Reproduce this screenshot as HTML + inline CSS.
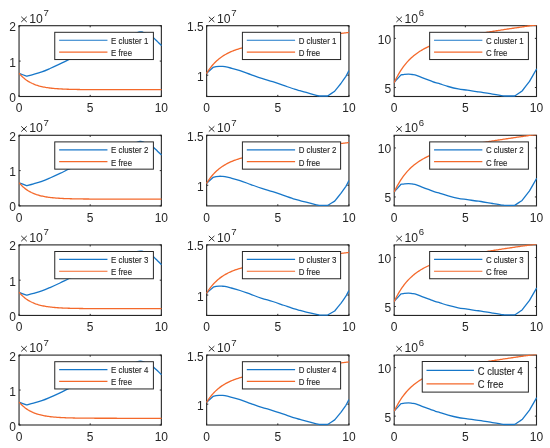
<!DOCTYPE html>
<html><head><meta charset="utf-8"><style>
html,body{margin:0;padding:0;background:#fff;width:550px;height:448px;overflow:hidden}
svg{display:block;will-change:transform}
text{font-family:"Liberation Sans",sans-serif;fill:#262626}
</style></head><body>
<svg width="550" height="448" viewBox="0 0 550 448">
<defs><filter id="bl" filterUnits="userSpaceOnUse" x="0" y="0" width="550" height="448"><feGaussianBlur stdDeviation="0.45"/></filter></defs>
<rect width="550" height="448" fill="#fff"/>
<g filter="url(#bl)">
<clipPath id="c00"><rect x="18.45" y="25.10" width="143.50" height="72.00"/></clipPath>
<rect x="19.05" y="25.70" width="142.30" height="70.80" fill="none" stroke="#262626" stroke-width="1.1"/>
<path d="M19.05,96.50 V94.90 M19.05,25.70 V27.30" stroke="#262626" stroke-width="1"/>
<text x="19.05" y="112.10" text-anchor="middle" font-size="12.0">0</text>
<path d="M90.20,96.50 V94.90 M90.20,25.70 V27.30" stroke="#262626" stroke-width="1"/>
<text x="90.20" y="112.10" text-anchor="middle" font-size="12.0">5</text>
<path d="M161.35,96.50 V94.90 M161.35,25.70 V27.30" stroke="#262626" stroke-width="1"/>
<text x="161.35" y="112.10" text-anchor="middle" font-size="12.0">10</text>
<path d="M19.05,25.70 H20.65 M161.35,25.70 H159.75" stroke="#262626" stroke-width="1"/>
<text x="16.05" y="31.20" text-anchor="end" font-size="12.0">2</text>
<path d="M19.05,61.10 H20.65 M161.35,61.10 H159.75" stroke="#262626" stroke-width="1"/>
<text x="16.05" y="66.60" text-anchor="end" font-size="12.0">1</text>
<path d="M19.05,96.50 H20.65 M161.35,96.50 H159.75" stroke="#262626" stroke-width="1"/>
<text x="16.05" y="102.00" text-anchor="end" font-size="12.0">0</text>
<path d="M21.25,16.75 L26.75,21.95 M26.75,16.75 L21.25,21.95" stroke="#262626" stroke-width="0.95" fill="none"/>
<text x="29.35" y="22.70" font-size="12.2">10</text>
<text x="43.55" y="16.25" font-size="9.6">7</text>
<g clip-path="url(#c00)" fill="none" stroke-width="1.3" stroke-linejoin="round">
<path d="M19.10,73.30 C20.33,73.78 25.27,75.72 26.50,76.20 C27.68,75.90 31.05,75.12 33.60,74.40 C36.15,73.68 39.07,72.88 41.80,71.90 C44.53,70.92 46.97,69.83 50.00,68.50 C53.03,67.17 56.82,65.41 60.00,63.90 C63.18,62.39 65.77,61.05 69.10,59.45 C72.43,57.85 76.52,55.88 80.00,54.30 C83.48,52.72 86.67,51.40 90.00,50.00 C93.33,48.60 96.67,47.23 100.00,45.90 C103.33,44.57 106.67,43.25 110.00,42.00 C113.33,40.75 116.67,39.60 120.00,38.40 C123.33,37.20 127.50,35.62 130.00,34.80 C132.50,33.98 133.67,33.92 135.00,33.50 C136.33,33.08 137.17,32.57 138.00,32.30 C138.83,32.03 139.33,31.95 140.00,31.90 C140.67,31.85 141.33,31.87 142.00,32.00 C142.67,32.13 143.00,32.30 144.00,32.70 C145.00,33.10 146.83,33.87 148.00,34.40 C149.17,34.93 150.05,35.32 151.00,35.90 C151.95,36.48 152.62,36.95 153.70,37.90 C154.78,38.85 156.18,40.32 157.50,41.60 C158.82,42.88 160.92,44.93 161.60,45.60" stroke="#1877C9"/>
<path d="M19.05,73.12 L20.07,74.33 L21.10,75.45 L22.12,76.49 L23.15,77.46 L24.17,78.35 L25.20,79.18 L26.22,79.95 L27.25,80.67 L28.27,81.33 L29.30,81.94 L30.32,82.51 L31.35,83.03 L32.37,83.52 L33.40,83.97 L34.42,84.39 L35.45,84.78 L36.47,85.14 L37.50,85.47 L38.52,85.78 L39.55,86.07 L40.57,86.33 L41.60,86.58 L42.62,86.81 L43.65,87.02 L44.67,87.21 L45.70,87.40 L46.72,87.56 L47.74,87.72 L48.77,87.87 L49.79,88.00 L50.82,88.12 L51.84,88.24 L52.87,88.35 L53.89,88.44 L54.92,88.54 L55.94,88.62 L56.97,88.70 L57.99,88.77 L59.02,88.84 L60.04,88.90 L61.07,88.96 L62.09,89.02 L63.12,89.07 L64.14,89.11 L65.17,89.16 L66.19,89.20 L67.22,89.23 L68.24,89.27 L69.27,89.30 L70.29,89.33 L71.32,89.35 L72.34,89.38 L73.37,89.40 L74.39,89.42 L75.42,89.45 L76.44,89.46 L77.46,89.48 L78.49,89.50 L79.51,89.51 L80.54,89.53 L81.56,89.54 L82.59,89.55 L83.61,89.56 L84.64,89.57 L85.66,89.58 L86.69,89.59 L87.71,89.60 L88.74,89.60 L89.76,89.61 L90.79,89.62 L91.81,89.62 L92.84,89.63 L93.86,89.63 L94.89,89.64 L95.91,89.64 L96.94,89.65 L97.96,89.65 L98.99,89.66 L100.01,89.66 L101.04,89.66 L102.06,89.66 L103.09,89.67 L104.11,89.67 L105.13,89.67 L106.16,89.67 L107.18,89.68 L108.21,89.68 L109.23,89.68 L110.26,89.68 L111.28,89.68 L112.31,89.68 L113.33,89.68 L114.36,89.69 L115.38,89.69 L116.41,89.69 L117.43,89.69 L118.46,89.69 L119.48,89.69 L120.51,89.69 L121.53,89.69 L122.56,89.69 L123.58,89.69 L124.61,89.69 L125.63,89.69 L126.66,89.69 L127.68,89.69 L128.71,89.70 L129.73,89.70 L130.76,89.70 L131.78,89.70 L132.81,89.70 L133.83,89.70 L134.85,89.70 L135.88,89.70 L136.90,89.70 L137.93,89.70 L138.95,89.70 L139.98,89.70 L141.00,89.70 L142.03,89.70 L143.05,89.70 L144.08,89.70 L145.10,89.70 L146.13,89.70 L147.15,89.70 L148.18,89.70 L149.20,89.70 L150.23,89.70 L151.25,89.70 L152.28,89.70 L153.30,89.70 L154.33,89.70 L155.35,89.70 L156.38,89.70 L157.40,89.70 L158.43,89.70 L159.45,89.70 L160.48,89.70 L161.50,89.70" stroke="#F4692C"/>
</g>
<rect x="54.75" y="32.30" width="98.65" height="27.25" fill="#fff" stroke="#262626" stroke-width="1"/>
<path d="M59.15,40.25 H107.45" stroke="#1877C9" stroke-width="1.2"/>
<path d="M59.15,52.05 H107.45" stroke="#F4692C" stroke-width="1.2"/>
<text transform="translate(111.05,43.60) scale(1,1.18)" font-size="7.9" stroke="#262626" stroke-width="0.12">E cluster 1</text>
<text transform="translate(111.05,56.00) scale(1,1.18)" font-size="7.9" stroke="#262626" stroke-width="0.12">E free</text>
<clipPath id="c01"><rect x="206.05" y="25.10" width="143.50" height="72.00"/></clipPath>
<rect x="206.65" y="25.70" width="142.30" height="70.80" fill="none" stroke="#262626" stroke-width="1.1"/>
<path d="M206.65,96.50 V94.90 M206.65,25.70 V27.30" stroke="#262626" stroke-width="1"/>
<text x="206.65" y="112.10" text-anchor="middle" font-size="12.0">0</text>
<path d="M277.80,96.50 V94.90 M277.80,25.70 V27.30" stroke="#262626" stroke-width="1"/>
<text x="277.80" y="112.10" text-anchor="middle" font-size="12.0">5</text>
<path d="M348.95,96.50 V94.90 M348.95,25.70 V27.30" stroke="#262626" stroke-width="1"/>
<text x="348.95" y="112.10" text-anchor="middle" font-size="12.0">10</text>
<path d="M206.65,25.70 H208.25 M348.95,25.70 H347.35" stroke="#262626" stroke-width="1"/>
<text x="203.65" y="31.20" text-anchor="end" font-size="12.0">1.5</text>
<path d="M206.65,75.19 H208.25 M348.95,75.19 H347.35" stroke="#262626" stroke-width="1"/>
<text x="203.65" y="80.69" text-anchor="end" font-size="12.0">1</text>
<path d="M208.85,16.75 L214.35,21.95 M214.35,16.75 L208.85,21.95" stroke="#262626" stroke-width="0.95" fill="none"/>
<text x="216.95" y="22.70" font-size="12.2">10</text>
<text x="231.15" y="16.25" font-size="9.6">7</text>
<g clip-path="url(#c01)" fill="none" stroke-width="1.3" stroke-linejoin="round">
<path d="M206.65,73.30 C207.76,72.30 212.19,68.30 213.30,67.30 C213.75,67.18 215.03,66.77 216.00,66.60 C216.97,66.43 218.10,66.34 219.10,66.30 C220.10,66.26 221.03,66.30 222.00,66.35 C222.97,66.40 223.45,66.32 224.90,66.60 C226.35,66.88 228.18,67.32 230.70,68.00 C233.22,68.68 236.63,69.56 240.00,70.66 C243.37,71.76 247.27,73.30 250.90,74.60 C254.53,75.90 258.17,77.27 261.80,78.45 C265.43,79.63 269.07,80.53 272.70,81.70 C276.33,82.87 279.97,84.20 283.60,85.45 C287.23,86.70 291.77,88.33 294.50,89.20 C297.23,90.08 298.05,90.17 300.00,90.70 C301.95,91.23 303.47,91.63 306.20,92.40 C308.93,93.17 314.20,94.70 316.40,95.30 C318.60,95.90 318.90,95.88 319.40,96.00 C320.77,96.00 326.23,96.00 327.60,96.00 C328.78,95.20 333.52,92.00 334.70,91.20 C335.73,89.92 339.87,84.78 340.90,83.50 C341.73,82.32 345.07,77.58 345.90,76.40 C346.40,75.43 348.40,71.57 348.90,70.60" stroke="#1877C9"/>
<path d="M206.50,73.54 L207.52,71.90 L208.55,70.35 L209.57,68.90 L210.60,67.53 L211.62,66.24 L212.65,65.03 L213.67,63.88 L214.70,62.80 L215.72,61.78 L216.74,60.82 L217.77,59.91 L218.79,59.06 L219.82,58.24 L220.84,57.48 L221.87,56.75 L222.89,56.07 L223.92,55.41 L224.94,54.80 L225.96,54.21 L226.99,53.66 L228.01,53.13 L229.04,52.62 L230.06,52.15 L231.09,51.69 L232.11,51.26 L233.14,50.84 L234.16,50.44 L235.18,50.07 L236.21,49.70 L237.23,49.36 L238.26,49.02 L239.28,48.70 L240.31,48.40 L241.33,48.10 L242.36,47.82 L243.38,47.54 L244.41,47.28 L245.43,47.02 L246.45,46.77 L247.48,46.53 L248.50,46.30 L249.53,46.07 L250.55,45.86 L251.58,45.64 L252.60,45.43 L253.63,45.23 L254.65,45.03 L255.67,44.84 L256.70,44.65 L257.72,44.47 L258.75,44.29 L259.77,44.11 L260.80,43.94 L261.82,43.77 L262.85,43.60 L263.87,43.43 L264.89,43.27 L265.92,43.11 L266.94,42.95 L267.97,42.80 L268.99,42.64 L270.02,42.49 L271.04,42.34 L272.07,42.19 L273.09,42.05 L274.11,41.90 L275.14,41.76 L276.16,41.61 L277.19,41.47 L278.21,41.33 L279.24,41.19 L280.26,41.05 L281.29,40.91 L282.31,40.77 L283.33,40.64 L284.36,40.50 L285.38,40.37 L286.41,40.23 L287.43,40.10 L288.46,39.96 L289.48,39.83 L290.51,39.70 L291.53,39.57 L292.55,39.43 L293.58,39.30 L294.60,39.17 L295.63,39.04 L296.65,38.91 L297.68,38.78 L298.70,38.65 L299.73,38.52 L300.75,38.39 L301.77,38.27 L302.80,38.14 L303.82,38.01 L304.85,37.88 L305.87,37.75 L306.90,37.62 L307.92,37.50 L308.95,37.37 L309.97,37.24 L310.99,37.11 L312.02,36.99 L313.04,36.86 L314.07,36.73 L315.09,36.61 L316.12,36.48 L317.14,36.35 L318.17,36.23 L319.19,36.10 L320.22,35.97 L321.24,35.85 L322.26,35.72 L323.29,35.59 L324.31,35.47 L325.34,35.34 L326.36,35.22 L327.39,35.09 L328.41,34.96 L329.44,34.84 L330.46,34.71 L331.48,34.59 L332.51,34.46 L333.53,34.33 L334.56,34.21 L335.58,34.08 L336.61,33.96 L337.63,33.83 L338.66,33.70 L339.68,33.58 L340.70,33.45 L341.73,33.33 L342.75,33.20 L343.78,33.08 L344.80,32.95 L345.83,32.82 L346.85,32.70 L347.88,32.57 L348.90,32.45" stroke="#F4692C"/>
</g>
<rect x="242.40" y="32.30" width="98.20" height="27.25" fill="#fff" stroke="#262626" stroke-width="1"/>
<path d="M246.80,40.25 H295.10" stroke="#1877C9" stroke-width="1.2"/>
<path d="M246.80,52.05 H295.10" stroke="#F4692C" stroke-width="1.2"/>
<text transform="translate(298.70,43.60) scale(1,1.18)" font-size="7.9" stroke="#262626" stroke-width="0.12">D cluster 1</text>
<text transform="translate(298.70,56.00) scale(1,1.18)" font-size="7.9" stroke="#262626" stroke-width="0.12">D free</text>
<clipPath id="c02"><rect x="393.60" y="25.10" width="143.50" height="72.00"/></clipPath>
<rect x="394.20" y="25.70" width="142.30" height="70.80" fill="none" stroke="#262626" stroke-width="1.1"/>
<path d="M394.20,96.50 V94.90 M394.20,25.70 V27.30" stroke="#262626" stroke-width="1"/>
<text x="394.20" y="112.10" text-anchor="middle" font-size="12.0">0</text>
<path d="M465.35,96.50 V94.90 M465.35,25.70 V27.30" stroke="#262626" stroke-width="1"/>
<text x="465.35" y="112.10" text-anchor="middle" font-size="12.0">5</text>
<path d="M536.50,96.50 V94.90 M536.50,25.70 V27.30" stroke="#262626" stroke-width="1"/>
<text x="536.50" y="112.10" text-anchor="middle" font-size="12.0">10</text>
<path d="M394.20,38.37 H395.80 M536.50,38.37 H534.90" stroke="#262626" stroke-width="1"/>
<text x="391.20" y="43.87" text-anchor="end" font-size="12.0">10</text>
<path d="M394.20,87.53 H395.80 M536.50,87.53 H534.90" stroke="#262626" stroke-width="1"/>
<text x="391.20" y="93.03" text-anchor="end" font-size="12.0">5</text>
<path d="M396.40,16.75 L401.90,21.95 M401.90,16.75 L396.40,21.95" stroke="#262626" stroke-width="0.95" fill="none"/>
<text x="404.50" y="22.70" font-size="12.2">10</text>
<text x="418.70" y="16.25" font-size="9.6">6</text>
<g clip-path="url(#c02)" fill="none" stroke-width="1.3" stroke-linejoin="round">
<path d="M394.20,82.40 C395.33,81.14 399.87,76.11 401.00,74.85 C401.58,74.77 403.23,74.47 404.50,74.35 C405.77,74.22 407.35,74.07 408.60,74.10 C409.85,74.12 410.70,74.30 412.00,74.50 C413.30,74.70 414.62,74.73 416.40,75.30 C418.18,75.87 420.30,76.97 422.70,77.90 C425.10,78.83 428.67,80.12 430.80,80.90 C432.93,81.68 433.97,82.10 435.50,82.60 C437.03,83.10 437.88,83.25 440.00,83.90 C442.12,84.55 445.17,85.67 448.20,86.50 C451.23,87.33 455.02,88.28 458.20,88.90 C461.38,89.52 464.27,89.75 467.30,90.20 C470.33,90.65 474.12,91.28 476.40,91.60 C478.68,91.92 478.32,91.68 481.00,92.10 C483.68,92.52 488.82,93.48 492.50,94.10 C496.18,94.72 500.80,95.48 503.10,95.80 C505.40,96.12 505.77,95.97 506.30,96.00 C507.70,96.00 513.30,96.00 514.70,96.00 C515.93,95.17 520.87,91.83 522.10,91.00 C523.33,89.40 528.27,83.00 529.50,81.40 C530.70,79.30 535.50,70.90 536.70,68.80" stroke="#1877C9"/>
<path d="M394.20,82.60 L395.22,80.44 L396.25,78.39 L397.27,76.45 L398.30,74.60 L399.32,72.86 L400.35,71.20 L401.37,69.62 L402.40,68.13 L403.42,66.71 L404.44,65.36 L405.47,64.07 L406.49,62.85 L407.52,61.69 L408.54,60.58 L409.57,59.53 L410.59,58.53 L411.62,57.57 L412.64,56.66 L413.66,55.79 L414.69,54.96 L415.71,54.17 L416.74,53.41 L417.76,52.68 L418.79,51.99 L419.81,51.32 L420.84,50.69 L421.86,50.08 L422.88,49.49 L423.91,48.93 L424.93,48.39 L425.96,47.87 L426.98,47.37 L428.01,46.89 L429.03,46.42 L430.06,45.97 L431.08,45.54 L432.11,45.13 L433.13,44.72 L434.15,44.33 L435.18,43.95 L436.20,43.59 L437.23,43.23 L438.25,42.89 L439.28,42.56 L440.30,42.23 L441.33,41.91 L442.35,41.61 L443.37,41.31 L444.40,41.01 L445.42,40.73 L446.45,40.45 L447.47,40.18 L448.50,39.91 L449.52,39.65 L450.55,39.40 L451.57,39.15 L452.59,38.90 L453.62,38.66 L454.64,38.42 L455.67,38.19 L456.69,37.96 L457.72,37.74 L458.74,37.52 L459.77,37.30 L460.79,37.09 L461.81,36.87 L462.84,36.66 L463.86,36.46 L464.89,36.26 L465.91,36.05 L466.94,35.86 L467.96,35.66 L468.99,35.46 L470.01,35.27 L471.03,35.08 L472.06,34.89 L473.08,34.71 L474.11,34.52 L475.13,34.34 L476.16,34.15 L477.18,33.97 L478.21,33.79 L479.23,33.62 L480.25,33.44 L481.28,33.26 L482.30,33.09 L483.33,32.92 L484.35,32.74 L485.38,32.57 L486.40,32.40 L487.43,32.23 L488.45,32.06 L489.47,31.90 L490.50,31.73 L491.52,31.57 L492.55,31.40 L493.57,31.24 L494.60,31.07 L495.62,30.91 L496.65,30.75 L497.67,30.59 L498.69,30.43 L499.72,30.27 L500.74,30.11 L501.77,29.95 L502.79,29.79 L503.82,29.63 L504.84,29.48 L505.87,29.32 L506.89,29.17 L507.92,29.01 L508.94,28.86 L509.96,28.70 L510.99,28.55 L512.01,28.40 L513.04,28.24 L514.06,28.09 L515.09,27.94 L516.11,27.79 L517.14,27.64 L518.16,27.49 L519.18,27.34 L520.21,27.19 L521.23,27.04 L522.26,26.89 L523.28,26.74 L524.31,26.59 L525.33,26.45 L526.36,26.30 L527.38,26.15 L528.40,26.01 L529.43,25.86 L530.45,25.72 L531.48,25.57 L532.50,25.43 L533.53,25.28 L534.55,25.14 L535.58,25.00 L536.60,24.85" stroke="#F4692C"/>
</g>
<rect x="429.65" y="32.30" width="98.75" height="27.25" fill="#fff" stroke="#262626" stroke-width="1"/>
<path d="M434.05,40.25 H482.35" stroke="#1877C9" stroke-width="1.2"/>
<path d="M434.05,52.05 H482.35" stroke="#F4692C" stroke-width="1.2"/>
<text transform="translate(485.95,43.60) scale(1,1.18)" font-size="7.9" stroke="#262626" stroke-width="0.12">C cluster 1</text>
<text transform="translate(485.95,56.00) scale(1,1.18)" font-size="7.9" stroke="#262626" stroke-width="0.12">C free</text>
<clipPath id="c10"><rect x="18.45" y="134.70" width="143.50" height="71.80"/></clipPath>
<rect x="19.05" y="135.30" width="142.30" height="70.60" fill="none" stroke="#262626" stroke-width="1.1"/>
<path d="M19.05,205.90 V204.30 M19.05,135.30 V136.90" stroke="#262626" stroke-width="1"/>
<text x="19.05" y="221.50" text-anchor="middle" font-size="12.0">0</text>
<path d="M90.20,205.90 V204.30 M90.20,135.30 V136.90" stroke="#262626" stroke-width="1"/>
<text x="90.20" y="221.50" text-anchor="middle" font-size="12.0">5</text>
<path d="M161.35,205.90 V204.30 M161.35,135.30 V136.90" stroke="#262626" stroke-width="1"/>
<text x="161.35" y="221.50" text-anchor="middle" font-size="12.0">10</text>
<path d="M19.05,135.30 H20.65 M161.35,135.30 H159.75" stroke="#262626" stroke-width="1"/>
<text x="16.05" y="140.80" text-anchor="end" font-size="12.0">2</text>
<path d="M19.05,170.60 H20.65 M161.35,170.60 H159.75" stroke="#262626" stroke-width="1"/>
<text x="16.05" y="176.10" text-anchor="end" font-size="12.0">1</text>
<path d="M19.05,205.90 H20.65 M161.35,205.90 H159.75" stroke="#262626" stroke-width="1"/>
<text x="16.05" y="211.40" text-anchor="end" font-size="12.0">0</text>
<path d="M21.25,126.35 L26.75,131.55 M26.75,126.35 L21.25,131.55" stroke="#262626" stroke-width="0.95" fill="none"/>
<text x="29.35" y="132.30" font-size="12.2">10</text>
<text x="43.55" y="125.85" font-size="9.6">7</text>
<g clip-path="url(#c10)" fill="none" stroke-width="1.3" stroke-linejoin="round">
<path d="M19.10,182.77 C20.33,183.25 25.27,185.18 26.50,185.66 C27.68,185.36 31.05,184.58 33.60,183.86 C36.15,183.15 39.07,182.35 41.80,181.37 C44.53,180.39 46.97,179.31 50.00,177.98 C53.03,176.65 56.82,174.90 60.00,173.39 C63.18,171.89 65.77,170.55 69.10,168.95 C72.43,167.36 76.52,165.39 80.00,163.82 C83.48,162.25 86.67,160.93 90.00,159.53 C93.33,158.14 96.67,156.77 100.00,155.44 C103.33,154.11 106.67,152.80 110.00,151.55 C113.33,150.31 116.67,149.16 120.00,147.96 C123.33,146.77 127.50,145.19 130.00,144.37 C132.50,143.56 133.67,143.49 135.00,143.08 C136.33,142.66 137.17,142.15 138.00,141.88 C138.83,141.62 139.33,141.53 140.00,141.48 C140.67,141.43 141.33,141.45 142.00,141.58 C142.67,141.72 143.00,141.88 144.00,142.28 C145.00,142.68 146.83,143.44 148.00,143.98 C149.17,144.51 150.05,144.89 151.00,145.47 C151.95,146.05 152.62,146.52 153.70,147.47 C154.78,148.41 156.18,149.88 157.50,151.16 C158.82,152.43 160.92,154.48 161.60,155.14" stroke="#1877C9"/>
<path d="M19.05,182.58 L20.07,183.79 L21.10,184.91 L22.12,185.95 L23.15,186.91 L24.17,187.81 L25.20,188.63 L26.22,189.40 L27.25,190.11 L28.27,190.77 L29.30,191.38 L30.32,191.94 L31.35,192.47 L32.37,192.96 L33.40,193.41 L34.42,193.82 L35.45,194.21 L36.47,194.57 L37.50,194.90 L38.52,195.21 L39.55,195.50 L40.57,195.76 L41.60,196.01 L42.62,196.23 L43.65,196.44 L44.67,196.64 L45.70,196.82 L46.72,196.99 L47.74,197.15 L48.77,197.29 L49.79,197.42 L50.82,197.55 L51.84,197.66 L52.87,197.77 L53.89,197.87 L54.92,197.96 L55.94,198.04 L56.97,198.12 L57.99,198.20 L59.02,198.26 L60.04,198.33 L61.07,198.38 L62.09,198.44 L63.12,198.49 L64.14,198.53 L65.17,198.58 L66.19,198.62 L67.22,198.65 L68.24,198.69 L69.27,198.72 L70.29,198.75 L71.32,198.77 L72.34,198.80 L73.37,198.82 L74.39,198.84 L75.42,198.87 L76.44,198.88 L77.46,198.90 L78.49,198.92 L79.51,198.93 L80.54,198.95 L81.56,198.96 L82.59,198.97 L83.61,198.98 L84.64,198.99 L85.66,199.00 L86.69,199.01 L87.71,199.02 L88.74,199.02 L89.76,199.03 L90.79,199.04 L91.81,199.04 L92.84,199.05 L93.86,199.05 L94.89,199.06 L95.91,199.06 L96.94,199.07 L97.96,199.07 L98.99,199.07 L100.01,199.08 L101.04,199.08 L102.06,199.08 L103.09,199.09 L104.11,199.09 L105.13,199.09 L106.16,199.09 L107.18,199.10 L108.21,199.10 L109.23,199.10 L110.26,199.10 L111.28,199.10 L112.31,199.10 L113.33,199.10 L114.36,199.11 L115.38,199.11 L116.41,199.11 L117.43,199.11 L118.46,199.11 L119.48,199.11 L120.51,199.11 L121.53,199.11 L122.56,199.11 L123.58,199.11 L124.61,199.11 L125.63,199.11 L126.66,199.11 L127.68,199.11 L128.71,199.11 L129.73,199.11 L130.76,199.11 L131.78,199.12 L132.81,199.12 L133.83,199.12 L134.85,199.12 L135.88,199.12 L136.90,199.12 L137.93,199.12 L138.95,199.12 L139.98,199.12 L141.00,199.12 L142.03,199.12 L143.05,199.12 L144.08,199.12 L145.10,199.12 L146.13,199.12 L147.15,199.12 L148.18,199.12 L149.20,199.12 L150.23,199.12 L151.25,199.12 L152.28,199.12 L153.30,199.12 L154.33,199.12 L155.35,199.12 L156.38,199.12 L157.40,199.12 L158.43,199.12 L159.45,199.12 L160.48,199.12 L161.50,199.12" stroke="#F4692C"/>
</g>
<rect x="54.75" y="141.90" width="98.65" height="27.25" fill="#fff" stroke="#262626" stroke-width="1"/>
<path d="M59.15,149.85 H107.45" stroke="#1877C9" stroke-width="1.2"/>
<path d="M59.15,161.65 H107.45" stroke="#F4692C" stroke-width="1.2"/>
<text transform="translate(111.05,153.20) scale(1,1.18)" font-size="7.9" stroke="#262626" stroke-width="0.12">E cluster 2</text>
<text transform="translate(111.05,165.60) scale(1,1.18)" font-size="7.9" stroke="#262626" stroke-width="0.12">E free</text>
<clipPath id="c11"><rect x="206.05" y="134.70" width="143.50" height="71.80"/></clipPath>
<rect x="206.65" y="135.30" width="142.30" height="70.60" fill="none" stroke="#262626" stroke-width="1.1"/>
<path d="M206.65,205.90 V204.30 M206.65,135.30 V136.90" stroke="#262626" stroke-width="1"/>
<text x="206.65" y="221.50" text-anchor="middle" font-size="12.0">0</text>
<path d="M277.80,205.90 V204.30 M277.80,135.30 V136.90" stroke="#262626" stroke-width="1"/>
<text x="277.80" y="221.50" text-anchor="middle" font-size="12.0">5</text>
<path d="M348.95,205.90 V204.30 M348.95,135.30 V136.90" stroke="#262626" stroke-width="1"/>
<text x="348.95" y="221.50" text-anchor="middle" font-size="12.0">10</text>
<path d="M206.65,135.30 H208.25 M348.95,135.30 H347.35" stroke="#262626" stroke-width="1"/>
<text x="203.65" y="140.80" text-anchor="end" font-size="12.0">1.5</text>
<path d="M206.65,185.28 H208.25 M348.95,185.28 H347.35" stroke="#262626" stroke-width="1"/>
<text x="203.65" y="190.78" text-anchor="end" font-size="12.0">1</text>
<path d="M208.85,126.35 L214.35,131.55 M214.35,126.35 L208.85,131.55" stroke="#262626" stroke-width="0.95" fill="none"/>
<text x="216.95" y="132.30" font-size="12.2">10</text>
<text x="231.15" y="125.85" font-size="9.6">7</text>
<g clip-path="url(#c11)" fill="none" stroke-width="1.3" stroke-linejoin="round">
<path d="M206.65,183.27 C207.76,182.27 212.19,178.28 213.30,177.28 C213.75,177.17 215.03,176.75 216.00,176.58 C216.97,176.42 218.10,176.33 219.10,176.29 C220.10,176.24 221.03,176.29 222.00,176.34 C222.97,176.39 223.45,176.31 224.90,176.58 C226.35,176.86 228.18,177.31 230.70,177.98 C233.22,178.66 236.63,179.54 240.00,180.63 C243.37,181.73 247.27,183.27 250.90,184.56 C254.53,185.86 258.17,187.22 261.80,188.40 C265.43,189.58 269.07,190.48 272.70,191.64 C276.33,192.81 279.97,194.13 283.60,195.38 C287.23,196.63 291.77,198.25 294.50,199.12 C297.23,199.99 298.05,200.10 300.00,200.62 C301.95,201.13 303.47,201.52 306.20,202.22 C308.93,202.92 314.20,204.28 316.40,204.82 C318.60,205.36 318.90,205.35 319.40,205.45 C320.77,205.45 326.23,205.45 327.60,205.45 C328.78,204.73 333.52,201.84 334.70,201.11 C335.73,199.84 339.87,194.72 340.90,193.44 C341.73,192.26 345.07,187.54 345.90,186.36 C346.40,185.39 348.40,181.54 348.90,180.57" stroke="#1877C9"/>
<path d="M206.50,183.51 L207.52,181.87 L208.55,180.33 L209.57,178.88 L210.60,177.51 L211.62,176.23 L212.65,175.01 L213.67,173.87 L214.70,172.80 L215.72,171.78 L216.74,170.82 L217.77,169.92 L218.79,169.06 L219.82,168.25 L220.84,167.49 L221.87,166.77 L222.89,166.08 L223.92,165.43 L224.94,164.82 L225.96,164.23 L226.99,163.68 L228.01,163.15 L229.04,162.65 L230.06,162.17 L231.09,161.72 L232.11,161.28 L233.14,160.87 L234.16,160.48 L235.18,160.10 L236.21,159.74 L237.23,159.39 L238.26,159.06 L239.28,158.74 L240.31,158.43 L241.33,158.14 L242.36,157.85 L243.38,157.58 L244.41,157.31 L245.43,157.06 L246.45,156.81 L247.48,156.57 L248.50,156.34 L249.53,156.12 L250.55,155.90 L251.58,155.69 L252.60,155.48 L253.63,155.28 L254.65,155.08 L255.67,154.89 L256.70,154.70 L257.72,154.52 L258.75,154.34 L259.77,154.16 L260.80,153.99 L261.82,153.82 L262.85,153.65 L263.87,153.48 L264.89,153.32 L265.92,153.16 L266.94,153.01 L267.97,152.85 L268.99,152.70 L270.02,152.54 L271.04,152.40 L272.07,152.25 L273.09,152.10 L274.11,151.95 L275.14,151.81 L276.16,151.67 L277.19,151.53 L278.21,151.38 L279.24,151.25 L280.26,151.11 L281.29,150.97 L282.31,150.83 L283.33,150.70 L284.36,150.56 L285.38,150.42 L286.41,150.29 L287.43,150.16 L288.46,150.02 L289.48,149.89 L290.51,149.76 L291.53,149.63 L292.55,149.50 L293.58,149.37 L294.60,149.23 L295.63,149.10 L296.65,148.97 L297.68,148.85 L298.70,148.72 L299.73,148.59 L300.75,148.46 L301.77,148.33 L302.80,148.20 L303.82,148.07 L304.85,147.95 L305.87,147.82 L306.90,147.69 L307.92,147.56 L308.95,147.44 L309.97,147.31 L310.99,147.18 L312.02,147.06 L313.04,146.93 L314.07,146.80 L315.09,146.68 L316.12,146.55 L317.14,146.42 L318.17,146.30 L319.19,146.17 L320.22,146.04 L321.24,145.92 L322.26,145.79 L323.29,145.67 L324.31,145.54 L325.34,145.41 L326.36,145.29 L327.39,145.16 L328.41,145.04 L329.44,144.91 L330.46,144.79 L331.48,144.66 L332.51,144.53 L333.53,144.41 L334.56,144.28 L335.58,144.16 L336.61,144.03 L337.63,143.91 L338.66,143.78 L339.68,143.66 L340.70,143.53 L341.73,143.41 L342.75,143.28 L343.78,143.16 L344.80,143.03 L345.83,142.90 L346.85,142.78 L347.88,142.65 L348.90,142.53" stroke="#F4692C"/>
</g>
<rect x="242.40" y="141.90" width="98.20" height="27.25" fill="#fff" stroke="#262626" stroke-width="1"/>
<path d="M246.80,149.85 H295.10" stroke="#1877C9" stroke-width="1.2"/>
<path d="M246.80,161.65 H295.10" stroke="#F4692C" stroke-width="1.2"/>
<text transform="translate(298.70,153.20) scale(1,1.18)" font-size="7.9" stroke="#262626" stroke-width="0.12">D cluster 2</text>
<text transform="translate(298.70,165.60) scale(1,1.18)" font-size="7.9" stroke="#262626" stroke-width="0.12">D free</text>
<clipPath id="c12"><rect x="393.60" y="134.70" width="143.50" height="71.80"/></clipPath>
<rect x="394.20" y="135.30" width="142.30" height="70.60" fill="none" stroke="#262626" stroke-width="1.1"/>
<path d="M394.20,205.90 V204.30 M394.20,135.30 V136.90" stroke="#262626" stroke-width="1"/>
<text x="394.20" y="221.50" text-anchor="middle" font-size="12.0">0</text>
<path d="M465.35,205.90 V204.30 M465.35,135.30 V136.90" stroke="#262626" stroke-width="1"/>
<text x="465.35" y="221.50" text-anchor="middle" font-size="12.0">5</text>
<path d="M536.50,205.90 V204.30 M536.50,135.30 V136.90" stroke="#262626" stroke-width="1"/>
<text x="536.50" y="221.50" text-anchor="middle" font-size="12.0">10</text>
<path d="M394.20,147.93 H395.80 M536.50,147.93 H534.90" stroke="#262626" stroke-width="1"/>
<text x="391.20" y="153.43" text-anchor="end" font-size="12.0">10</text>
<path d="M394.20,196.96 H395.80 M536.50,196.96 H534.90" stroke="#262626" stroke-width="1"/>
<text x="391.20" y="202.46" text-anchor="end" font-size="12.0">5</text>
<path d="M396.40,126.35 L401.90,131.55 M401.90,126.35 L396.40,131.55" stroke="#262626" stroke-width="0.95" fill="none"/>
<text x="404.50" y="132.30" font-size="12.2">10</text>
<text x="418.70" y="125.85" font-size="9.6">6</text>
<g clip-path="url(#c12)" fill="none" stroke-width="1.3" stroke-linejoin="round">
<path d="M394.20,191.84 C395.33,190.59 399.87,185.57 401.00,184.31 C401.58,184.23 403.23,183.94 404.50,183.81 C405.77,183.69 407.35,183.54 408.60,183.56 C409.85,183.59 410.70,183.76 412.00,183.96 C413.30,184.16 414.62,184.19 416.40,184.76 C418.18,185.32 420.30,186.42 422.70,187.35 C425.10,188.28 428.67,189.56 430.80,190.34 C432.93,191.13 433.97,191.54 435.50,192.04 C437.03,192.54 437.88,192.69 440.00,193.34 C442.12,193.98 445.17,195.10 448.20,195.93 C451.23,196.76 455.02,197.71 458.20,198.32 C461.38,198.94 464.27,199.17 467.30,199.62 C470.33,200.07 474.12,200.70 476.40,201.01 C478.68,201.33 478.32,201.10 481.00,201.51 C483.68,201.93 488.82,202.89 492.50,203.51 C496.18,204.12 500.80,204.89 503.10,205.20 C505.40,205.52 505.77,205.37 506.30,205.40 C507.70,205.40 513.30,205.40 514.70,205.40 C515.93,204.57 520.87,201.25 522.10,200.42 C523.33,198.82 528.27,192.44 529.50,190.84 C530.70,188.75 535.50,180.37 536.70,178.28" stroke="#1877C9"/>
<path d="M394.20,192.04 L395.22,189.88 L396.25,187.84 L397.27,185.90 L398.30,184.07 L399.32,182.32 L400.35,180.67 L401.37,179.10 L402.40,177.61 L403.42,176.19 L404.44,174.84 L405.47,173.56 L406.49,172.35 L407.52,171.19 L408.54,170.09 L409.57,169.04 L410.59,168.04 L411.62,167.08 L412.64,166.17 L413.66,165.31 L414.69,164.48 L415.71,163.69 L416.74,162.93 L417.76,162.21 L418.79,161.51 L419.81,160.85 L420.84,160.22 L421.86,159.61 L422.88,159.02 L423.91,158.46 L424.93,157.92 L425.96,157.40 L426.98,156.91 L428.01,156.43 L429.03,155.96 L430.06,155.52 L431.08,155.09 L432.11,154.67 L433.13,154.27 L434.15,153.88 L435.18,153.50 L436.20,153.14 L437.23,152.78 L438.25,152.44 L439.28,152.11 L440.30,151.78 L441.33,151.47 L442.35,151.16 L443.37,150.86 L444.40,150.57 L445.42,150.29 L446.45,150.01 L447.47,149.74 L448.50,149.47 L449.52,149.21 L450.55,148.96 L451.57,148.71 L452.59,148.46 L453.62,148.22 L454.64,147.99 L455.67,147.76 L456.69,147.53 L457.72,147.31 L458.74,147.08 L459.77,146.87 L460.79,146.65 L461.81,146.44 L462.84,146.23 L463.86,146.03 L464.89,145.83 L465.91,145.62 L466.94,145.43 L467.96,145.23 L468.99,145.04 L470.01,144.84 L471.03,144.65 L472.06,144.47 L473.08,144.28 L474.11,144.09 L475.13,143.91 L476.16,143.73 L477.18,143.55 L478.21,143.37 L479.23,143.19 L480.25,143.02 L481.28,142.84 L482.30,142.67 L483.33,142.50 L484.35,142.32 L485.38,142.15 L486.40,141.98 L487.43,141.81 L488.45,141.65 L489.47,141.48 L490.50,141.31 L491.52,141.15 L492.55,140.98 L493.57,140.82 L494.60,140.66 L495.62,140.50 L496.65,140.33 L497.67,140.17 L498.69,140.01 L499.72,139.86 L500.74,139.70 L501.77,139.54 L502.79,139.38 L503.82,139.22 L504.84,139.07 L505.87,138.91 L506.89,138.76 L507.92,138.60 L508.94,138.45 L509.96,138.29 L510.99,138.14 L512.01,137.99 L513.04,137.84 L514.06,137.68 L515.09,137.53 L516.11,137.38 L517.14,137.23 L518.16,137.08 L519.18,136.93 L520.21,136.78 L521.23,136.64 L522.26,136.49 L523.28,136.34 L524.31,136.19 L525.33,136.05 L526.36,135.90 L527.38,135.75 L528.40,135.61 L529.43,135.46 L530.45,135.32 L531.48,135.17 L532.50,135.03 L533.53,134.88 L534.55,134.74 L535.58,134.60 L536.60,134.45" stroke="#F4692C"/>
</g>
<rect x="429.65" y="141.90" width="98.75" height="27.25" fill="#fff" stroke="#262626" stroke-width="1"/>
<path d="M434.05,149.85 H482.35" stroke="#1877C9" stroke-width="1.2"/>
<path d="M434.05,161.65 H482.35" stroke="#F4692C" stroke-width="1.2"/>
<text transform="translate(485.95,153.20) scale(1,1.18)" font-size="7.9" stroke="#262626" stroke-width="0.12">C cluster 2</text>
<text transform="translate(485.95,165.60) scale(1,1.18)" font-size="7.9" stroke="#262626" stroke-width="0.12">C free</text>
<clipPath id="c20"><rect x="18.45" y="244.30" width="143.50" height="71.75"/></clipPath>
<rect x="19.05" y="244.90" width="142.30" height="70.55" fill="none" stroke="#262626" stroke-width="1.1"/>
<path d="M19.05,315.45 V313.85 M19.05,244.90 V246.50" stroke="#262626" stroke-width="1"/>
<text x="19.05" y="331.05" text-anchor="middle" font-size="12.0">0</text>
<path d="M90.20,315.45 V313.85 M90.20,244.90 V246.50" stroke="#262626" stroke-width="1"/>
<text x="90.20" y="331.05" text-anchor="middle" font-size="12.0">5</text>
<path d="M161.35,315.45 V313.85 M161.35,244.90 V246.50" stroke="#262626" stroke-width="1"/>
<text x="161.35" y="331.05" text-anchor="middle" font-size="12.0">10</text>
<path d="M19.05,244.90 H20.65 M161.35,244.90 H159.75" stroke="#262626" stroke-width="1"/>
<text x="16.05" y="250.40" text-anchor="end" font-size="12.0">2</text>
<path d="M19.05,280.18 H20.65 M161.35,280.18 H159.75" stroke="#262626" stroke-width="1"/>
<text x="16.05" y="285.68" text-anchor="end" font-size="12.0">1</text>
<path d="M19.05,315.45 H20.65 M161.35,315.45 H159.75" stroke="#262626" stroke-width="1"/>
<text x="16.05" y="320.95" text-anchor="end" font-size="12.0">0</text>
<path d="M21.25,235.95 L26.75,241.15 M26.75,235.95 L21.25,241.15" stroke="#262626" stroke-width="0.95" fill="none"/>
<text x="29.35" y="241.90" font-size="12.2">10</text>
<text x="43.55" y="235.45" font-size="9.6">7</text>
<g clip-path="url(#c20)" fill="none" stroke-width="1.3" stroke-linejoin="round">
<path d="M19.10,292.33 C20.33,292.81 25.27,294.74 26.50,295.22 C27.68,294.92 31.05,294.14 33.60,293.43 C36.15,292.71 39.07,291.92 41.80,290.94 C44.53,289.96 46.97,288.88 50.00,287.55 C53.03,286.22 56.82,284.47 60.00,282.97 C63.18,281.46 65.77,280.13 69.10,278.53 C72.43,276.94 76.52,274.97 80.00,273.40 C83.48,271.83 86.67,270.51 90.00,269.11 C93.33,267.72 96.67,266.36 100.00,265.03 C103.33,263.70 106.67,262.39 110.00,261.14 C113.33,259.90 116.67,258.75 120.00,257.56 C123.33,256.36 127.50,254.78 130.00,253.97 C132.50,253.15 133.67,253.09 135.00,252.67 C136.33,252.26 137.17,251.74 138.00,251.48 C138.83,251.21 139.33,251.13 140.00,251.08 C140.67,251.03 141.33,251.04 142.00,251.18 C142.67,251.31 143.00,251.48 144.00,251.88 C145.00,252.27 146.83,253.04 148.00,253.57 C149.17,254.10 150.05,254.48 151.00,255.06 C151.95,255.65 152.62,256.11 153.70,257.06 C154.78,258.00 156.18,259.47 157.50,260.74 C158.82,262.02 160.92,264.07 161.60,264.73" stroke="#1877C9"/>
<path d="M19.05,292.15 L20.07,293.36 L21.10,294.48 L22.12,295.51 L23.15,296.48 L24.17,297.37 L25.20,298.19 L26.22,298.96 L27.25,299.67 L28.27,300.33 L29.30,300.94 L30.32,301.50 L31.35,302.03 L32.37,302.51 L33.40,302.96 L34.42,303.38 L35.45,303.77 L36.47,304.13 L37.50,304.46 L38.52,304.77 L39.55,305.05 L40.57,305.32 L41.60,305.56 L42.62,305.79 L43.65,306.00 L44.67,306.20 L45.70,306.38 L46.72,306.55 L47.74,306.70 L48.77,306.85 L49.79,306.98 L50.82,307.10 L51.84,307.22 L52.87,307.32 L53.89,307.42 L54.92,307.51 L55.94,307.60 L56.97,307.68 L57.99,307.75 L59.02,307.82 L60.04,307.88 L61.07,307.94 L62.09,307.99 L63.12,308.04 L64.14,308.09 L65.17,308.13 L66.19,308.17 L67.22,308.21 L68.24,308.24 L69.27,308.27 L70.29,308.30 L71.32,308.33 L72.34,308.36 L73.37,308.38 L74.39,308.40 L75.42,308.42 L76.44,308.44 L77.46,308.46 L78.49,308.47 L79.51,308.49 L80.54,308.50 L81.56,308.51 L82.59,308.52 L83.61,308.54 L84.64,308.55 L85.66,308.56 L86.69,308.56 L87.71,308.57 L88.74,308.58 L89.76,308.59 L90.79,308.59 L91.81,308.60 L92.84,308.60 L93.86,308.61 L94.89,308.61 L95.91,308.62 L96.94,308.62 L97.96,308.63 L98.99,308.63 L100.01,308.63 L101.04,308.64 L102.06,308.64 L103.09,308.64 L104.11,308.64 L105.13,308.65 L106.16,308.65 L107.18,308.65 L108.21,308.65 L109.23,308.65 L110.26,308.65 L111.28,308.66 L112.31,308.66 L113.33,308.66 L114.36,308.66 L115.38,308.66 L116.41,308.66 L117.43,308.66 L118.46,308.66 L119.48,308.66 L120.51,308.67 L121.53,308.67 L122.56,308.67 L123.58,308.67 L124.61,308.67 L125.63,308.67 L126.66,308.67 L127.68,308.67 L128.71,308.67 L129.73,308.67 L130.76,308.67 L131.78,308.67 L132.81,308.67 L133.83,308.67 L134.85,308.67 L135.88,308.67 L136.90,308.67 L137.93,308.67 L138.95,308.67 L139.98,308.67 L141.00,308.67 L142.03,308.67 L143.05,308.67 L144.08,308.67 L145.10,308.67 L146.13,308.67 L147.15,308.67 L148.18,308.67 L149.20,308.67 L150.23,308.67 L151.25,308.67 L152.28,308.67 L153.30,308.67 L154.33,308.67 L155.35,308.67 L156.38,308.67 L157.40,308.67 L158.43,308.67 L159.45,308.67 L160.48,308.67 L161.50,308.67" stroke="#F4692C"/>
</g>
<rect x="54.75" y="251.50" width="98.65" height="27.25" fill="#fff" stroke="#262626" stroke-width="1"/>
<path d="M59.15,259.45 H107.45" stroke="#1877C9" stroke-width="1.2"/>
<path d="M59.15,271.25 H107.45" stroke="#F4692C" stroke-width="1.2"/>
<text transform="translate(111.05,262.80) scale(1,1.18)" font-size="7.9" stroke="#262626" stroke-width="0.12">E cluster 3</text>
<text transform="translate(111.05,275.20) scale(1,1.18)" font-size="7.9" stroke="#262626" stroke-width="0.12">E free</text>
<clipPath id="c21"><rect x="206.05" y="244.30" width="143.50" height="71.75"/></clipPath>
<rect x="206.65" y="244.90" width="142.30" height="70.55" fill="none" stroke="#262626" stroke-width="1.1"/>
<path d="M206.65,315.45 V313.85 M206.65,244.90 V246.50" stroke="#262626" stroke-width="1"/>
<text x="206.65" y="331.05" text-anchor="middle" font-size="12.0">0</text>
<path d="M277.80,315.45 V313.85 M277.80,244.90 V246.50" stroke="#262626" stroke-width="1"/>
<text x="277.80" y="331.05" text-anchor="middle" font-size="12.0">5</text>
<path d="M348.95,315.45 V313.85 M348.95,244.90 V246.50" stroke="#262626" stroke-width="1"/>
<text x="348.95" y="331.05" text-anchor="middle" font-size="12.0">10</text>
<path d="M206.65,244.90 H208.25 M348.95,244.90 H347.35" stroke="#262626" stroke-width="1"/>
<text x="203.65" y="250.40" text-anchor="end" font-size="12.0">1.5</text>
<path d="M206.65,295.06 H208.25 M348.95,295.06 H347.35" stroke="#262626" stroke-width="1"/>
<text x="203.65" y="300.56" text-anchor="end" font-size="12.0">1</text>
<path d="M208.85,235.95 L214.35,241.15 M214.35,235.95 L208.85,241.15" stroke="#262626" stroke-width="0.95" fill="none"/>
<text x="216.95" y="241.90" font-size="12.2">10</text>
<text x="231.15" y="235.45" font-size="9.6">7</text>
<g clip-path="url(#c21)" fill="none" stroke-width="1.3" stroke-linejoin="round">
<path d="M206.65,293.13 C207.76,292.14 212.19,288.15 213.30,287.15 C213.75,287.04 215.03,286.62 216.00,286.46 C216.97,286.29 218.10,286.20 219.10,286.16 C220.10,286.12 221.03,286.16 222.00,286.21 C222.97,286.26 223.45,286.18 224.90,286.46 C226.35,286.73 228.18,287.18 230.70,287.85 C233.22,288.52 236.63,289.41 240.00,290.50 C243.37,291.60 247.27,293.13 250.90,294.43 C254.53,295.72 258.17,297.08 261.80,298.26 C265.43,299.44 269.07,300.34 272.70,301.50 C276.33,302.66 279.97,303.99 283.60,305.24 C287.23,306.48 291.77,308.10 294.50,308.98 C297.23,309.85 298.05,309.96 300.00,310.47 C301.95,310.98 303.47,311.36 306.20,312.02 C308.93,312.68 314.20,313.94 316.40,314.45 C318.60,314.95 318.90,314.93 319.40,315.03 C320.77,315.03 326.23,315.03 327.60,315.03 C328.78,314.35 333.52,311.65 334.70,310.97 C335.73,309.69 339.87,304.57 340.90,303.30 C341.73,302.12 345.07,297.40 345.90,296.22 C346.40,295.26 348.40,291.40 348.90,290.44" stroke="#1877C9"/>
<path d="M206.50,293.37 L207.52,291.74 L208.55,290.20 L209.57,288.75 L210.60,287.38 L211.62,286.10 L212.65,284.89 L213.67,283.75 L214.70,282.67 L215.72,281.65 L216.74,280.70 L217.77,279.79 L218.79,278.94 L219.82,278.13 L220.84,277.37 L221.87,276.64 L222.89,275.96 L223.92,275.31 L224.94,274.69 L225.96,274.11 L226.99,273.56 L228.01,273.03 L229.04,272.53 L230.06,272.05 L231.09,271.60 L232.11,271.17 L233.14,270.75 L234.16,270.36 L235.18,269.98 L236.21,269.62 L237.23,269.27 L238.26,268.94 L239.28,268.62 L240.31,268.32 L241.33,268.02 L242.36,267.74 L243.38,267.46 L244.41,267.20 L245.43,266.94 L246.45,266.70 L247.48,266.46 L248.50,266.23 L249.53,266.00 L250.55,265.78 L251.58,265.57 L252.60,265.36 L253.63,265.16 L254.65,264.97 L255.67,264.77 L256.70,264.59 L257.72,264.40 L258.75,264.22 L259.77,264.05 L260.80,263.87 L261.82,263.70 L262.85,263.54 L263.87,263.37 L264.89,263.21 L265.92,263.05 L266.94,262.89 L267.97,262.74 L268.99,262.58 L270.02,262.43 L271.04,262.28 L272.07,262.14 L273.09,261.99 L274.11,261.84 L275.14,261.70 L276.16,261.56 L277.19,261.41 L278.21,261.27 L279.24,261.13 L280.26,261.00 L281.29,260.86 L282.31,260.72 L283.33,260.58 L284.36,260.45 L285.38,260.31 L286.41,260.18 L287.43,260.05 L288.46,259.91 L289.48,259.78 L290.51,259.65 L291.53,259.52 L292.55,259.39 L293.58,259.26 L294.60,259.13 L295.63,259.00 L296.65,258.87 L297.68,258.74 L298.70,258.61 L299.73,258.48 L300.75,258.35 L301.77,258.22 L302.80,258.09 L303.82,257.97 L304.85,257.84 L305.87,257.71 L306.90,257.58 L307.92,257.45 L308.95,257.33 L309.97,257.20 L310.99,257.07 L312.02,256.95 L313.04,256.82 L314.07,256.69 L315.09,256.57 L316.12,256.44 L317.14,256.32 L318.17,256.19 L319.19,256.06 L320.22,255.94 L321.24,255.81 L322.26,255.68 L323.29,255.56 L324.31,255.43 L325.34,255.31 L326.36,255.18 L327.39,255.06 L328.41,254.93 L329.44,254.81 L330.46,254.68 L331.48,254.55 L332.51,254.43 L333.53,254.30 L334.56,254.18 L335.58,254.05 L336.61,253.93 L337.63,253.80 L338.66,253.68 L339.68,253.55 L340.70,253.43 L341.73,253.30 L342.75,253.18 L343.78,253.05 L344.80,252.93 L345.83,252.80 L346.85,252.67 L347.88,252.55 L348.90,252.42" stroke="#F4692C"/>
</g>
<rect x="242.40" y="251.50" width="98.20" height="27.25" fill="#fff" stroke="#262626" stroke-width="1"/>
<path d="M246.80,259.45 H295.10" stroke="#1877C9" stroke-width="1.2"/>
<path d="M246.80,271.25 H295.10" stroke="#F4692C" stroke-width="1.2"/>
<text transform="translate(298.70,262.80) scale(1,1.18)" font-size="7.9" stroke="#262626" stroke-width="0.12">D cluster 3</text>
<text transform="translate(298.70,275.20) scale(1,1.18)" font-size="7.9" stroke="#262626" stroke-width="0.12">D free</text>
<clipPath id="c22"><rect x="393.60" y="244.30" width="143.50" height="71.75"/></clipPath>
<rect x="394.20" y="244.90" width="142.30" height="70.55" fill="none" stroke="#262626" stroke-width="1.1"/>
<path d="M394.20,315.45 V313.85 M394.20,244.90 V246.50" stroke="#262626" stroke-width="1"/>
<text x="394.20" y="331.05" text-anchor="middle" font-size="12.0">0</text>
<path d="M465.35,315.45 V313.85 M465.35,244.90 V246.50" stroke="#262626" stroke-width="1"/>
<text x="465.35" y="331.05" text-anchor="middle" font-size="12.0">5</text>
<path d="M536.50,315.45 V313.85 M536.50,244.90 V246.50" stroke="#262626" stroke-width="1"/>
<text x="536.50" y="331.05" text-anchor="middle" font-size="12.0">10</text>
<path d="M394.20,257.53 H395.80 M536.50,257.53 H534.90" stroke="#262626" stroke-width="1"/>
<text x="391.20" y="263.03" text-anchor="end" font-size="12.0">10</text>
<path d="M394.20,306.51 H395.80 M536.50,306.51 H534.90" stroke="#262626" stroke-width="1"/>
<text x="391.20" y="312.01" text-anchor="end" font-size="12.0">5</text>
<path d="M396.40,235.95 L401.90,241.15 M401.90,235.95 L396.40,241.15" stroke="#262626" stroke-width="0.95" fill="none"/>
<text x="404.50" y="241.90" font-size="12.2">10</text>
<text x="418.70" y="235.45" font-size="9.6">6</text>
<g clip-path="url(#c22)" fill="none" stroke-width="1.3" stroke-linejoin="round">
<path d="M394.20,301.40 C395.33,300.15 399.87,295.13 401.00,293.88 C401.58,293.79 403.23,293.50 404.50,293.38 C405.77,293.25 407.35,293.10 408.60,293.13 C409.85,293.15 410.70,293.33 412.00,293.53 C413.30,293.73 414.62,293.76 416.40,294.32 C418.18,294.89 420.30,295.99 422.70,296.92 C425.10,297.85 428.67,299.12 430.80,299.91 C432.93,300.69 433.97,301.10 435.50,301.60 C437.03,302.10 437.88,302.25 440.00,302.89 C442.12,303.54 445.17,304.65 448.20,305.49 C451.23,306.32 455.02,307.26 458.20,307.88 C461.38,308.49 464.27,308.72 467.30,309.17 C470.33,309.62 474.12,310.25 476.40,310.57 C478.68,310.88 478.32,310.65 481.00,311.07 C483.68,311.48 488.82,312.44 492.50,313.06 C496.18,313.67 500.80,314.44 503.10,314.75 C505.40,315.07 505.77,314.92 506.30,314.95 C507.70,314.95 513.30,314.95 514.70,314.95 C515.93,314.12 520.87,310.80 522.10,309.97 C523.33,308.38 528.27,302.00 529.50,300.40 C530.70,298.31 535.50,289.94 536.70,287.85" stroke="#1877C9"/>
<path d="M394.20,301.60 L395.22,299.44 L396.25,297.40 L397.27,295.47 L398.30,293.63 L399.32,291.89 L400.35,290.24 L401.37,288.67 L402.40,287.18 L403.42,285.76 L404.44,284.42 L405.47,283.14 L406.49,281.92 L407.52,280.76 L408.54,279.66 L409.57,278.61 L410.59,277.61 L411.62,276.66 L412.64,275.75 L413.66,274.88 L414.69,274.06 L415.71,273.27 L416.74,272.51 L417.76,271.79 L418.79,271.10 L419.81,270.43 L420.84,269.80 L421.86,269.19 L422.88,268.61 L423.91,268.05 L424.93,267.51 L425.96,266.99 L426.98,266.49 L428.01,266.01 L429.03,265.55 L430.06,265.10 L431.08,264.67 L432.11,264.26 L433.13,263.86 L434.15,263.47 L435.18,263.09 L436.20,262.73 L437.23,262.37 L438.25,262.03 L439.28,261.70 L440.30,261.37 L441.33,261.06 L442.35,260.75 L443.37,260.45 L444.40,260.16 L445.42,259.88 L446.45,259.60 L447.47,259.33 L448.50,259.06 L449.52,258.80 L450.55,258.55 L451.57,258.30 L452.59,258.06 L453.62,257.82 L454.64,257.58 L455.67,257.35 L456.69,257.12 L457.72,256.90 L458.74,256.68 L459.77,256.46 L460.79,256.25 L461.81,256.03 L462.84,255.83 L463.86,255.62 L464.89,255.42 L465.91,255.22 L466.94,255.02 L467.96,254.82 L468.99,254.63 L470.01,254.44 L471.03,254.25 L472.06,254.06 L473.08,253.87 L474.11,253.69 L475.13,253.51 L476.16,253.32 L477.18,253.14 L478.21,252.97 L479.23,252.79 L480.25,252.61 L481.28,252.44 L482.30,252.26 L483.33,252.09 L484.35,251.92 L485.38,251.75 L486.40,251.58 L487.43,251.41 L488.45,251.24 L489.47,251.08 L490.50,250.91 L491.52,250.74 L492.55,250.58 L493.57,250.42 L494.60,250.25 L495.62,250.09 L496.65,249.93 L497.67,249.77 L498.69,249.61 L499.72,249.45 L500.74,249.29 L501.77,249.14 L502.79,248.98 L503.82,248.82 L504.84,248.66 L505.87,248.51 L506.89,248.35 L507.92,248.20 L508.94,248.05 L509.96,247.89 L510.99,247.74 L512.01,247.59 L513.04,247.43 L514.06,247.28 L515.09,247.13 L516.11,246.98 L517.14,246.83 L518.16,246.68 L519.18,246.53 L520.21,246.38 L521.23,246.23 L522.26,246.09 L523.28,245.94 L524.31,245.79 L525.33,245.64 L526.36,245.50 L527.38,245.35 L528.40,245.21 L529.43,245.06 L530.45,244.92 L531.48,244.77 L532.50,244.63 L533.53,244.48 L534.55,244.34 L535.58,244.20 L536.60,244.06" stroke="#F4692C"/>
</g>
<rect x="429.65" y="251.50" width="98.75" height="27.25" fill="#fff" stroke="#262626" stroke-width="1"/>
<path d="M434.05,259.45 H482.35" stroke="#1877C9" stroke-width="1.2"/>
<path d="M434.05,271.25 H482.35" stroke="#F4692C" stroke-width="1.2"/>
<text transform="translate(485.95,262.80) scale(1,1.18)" font-size="7.9" stroke="#262626" stroke-width="0.12">C cluster 3</text>
<text transform="translate(485.95,275.20) scale(1,1.18)" font-size="7.9" stroke="#262626" stroke-width="0.12">C free</text>
<clipPath id="c30"><rect x="18.45" y="354.50" width="143.50" height="71.10"/></clipPath>
<rect x="19.05" y="355.10" width="142.30" height="69.90" fill="none" stroke="#262626" stroke-width="1.1"/>
<path d="M19.05,425.00 V423.40 M19.05,355.10 V356.70" stroke="#262626" stroke-width="1"/>
<text x="19.05" y="440.60" text-anchor="middle" font-size="12.0">0</text>
<path d="M90.20,425.00 V423.40 M90.20,355.10 V356.70" stroke="#262626" stroke-width="1"/>
<text x="90.20" y="440.60" text-anchor="middle" font-size="12.0">5</text>
<path d="M161.35,425.00 V423.40 M161.35,355.10 V356.70" stroke="#262626" stroke-width="1"/>
<text x="161.35" y="440.60" text-anchor="middle" font-size="12.0">10</text>
<path d="M19.05,355.10 H20.65 M161.35,355.10 H159.75" stroke="#262626" stroke-width="1"/>
<text x="16.05" y="360.60" text-anchor="end" font-size="12.0">2</text>
<path d="M19.05,390.05 H20.65 M161.35,390.05 H159.75" stroke="#262626" stroke-width="1"/>
<text x="16.05" y="395.55" text-anchor="end" font-size="12.0">1</text>
<path d="M19.05,425.00 H20.65 M161.35,425.00 H159.75" stroke="#262626" stroke-width="1"/>
<text x="16.05" y="430.50" text-anchor="end" font-size="12.0">0</text>
<path d="M21.25,346.15 L26.75,351.35 M26.75,346.15 L21.25,351.35" stroke="#262626" stroke-width="0.95" fill="none"/>
<text x="29.35" y="352.10" font-size="12.2">10</text>
<text x="43.55" y="345.65" font-size="9.6">7</text>
<g clip-path="url(#c30)" fill="none" stroke-width="1.3" stroke-linejoin="round">
<path d="M19.10,402.09 C20.33,402.57 25.27,404.48 26.50,404.96 C27.68,404.66 31.05,403.89 33.60,403.18 C36.15,402.47 39.07,401.68 41.80,400.71 C44.53,399.74 46.97,398.67 50.00,397.36 C53.03,396.04 56.82,394.30 60.00,392.81 C63.18,391.33 65.77,390.00 69.10,388.42 C72.43,386.84 76.52,384.89 80.00,383.34 C83.48,381.78 86.67,380.47 90.00,379.09 C93.33,377.71 96.67,376.36 100.00,375.04 C103.33,373.73 106.67,372.43 110.00,371.19 C113.33,369.96 116.67,368.82 120.00,367.64 C123.33,366.45 127.50,364.89 130.00,364.08 C132.50,363.28 133.67,363.21 135.00,362.80 C136.33,362.39 137.17,361.88 138.00,361.62 C138.83,361.35 139.33,361.27 140.00,361.22 C140.67,361.17 141.33,361.19 142.00,361.32 C142.67,361.45 143.00,361.62 144.00,362.01 C145.00,362.41 146.83,363.16 148.00,363.69 C149.17,364.22 150.05,364.59 151.00,365.17 C151.95,365.75 152.62,366.21 153.70,367.14 C154.78,368.08 156.18,369.53 157.50,370.80 C158.82,372.06 160.92,374.09 161.60,374.75" stroke="#1877C9"/>
<path d="M19.05,401.91 L20.07,403.11 L21.10,404.22 L22.12,405.25 L23.15,406.20 L24.17,407.09 L25.20,407.90 L26.22,408.66 L27.25,409.37 L28.27,410.02 L29.30,410.62 L30.32,411.18 L31.35,411.70 L32.37,412.18 L33.40,412.63 L34.42,413.04 L35.45,413.43 L36.47,413.78 L37.50,414.11 L38.52,414.42 L39.55,414.70 L40.57,414.96 L41.60,415.20 L42.62,415.43 L43.65,415.64 L44.67,415.83 L45.70,416.01 L46.72,416.18 L47.74,416.33 L48.77,416.47 L49.79,416.61 L50.82,416.73 L51.84,416.84 L52.87,416.95 L53.89,417.05 L54.92,417.14 L55.94,417.22 L56.97,417.30 L57.99,417.37 L59.02,417.44 L60.04,417.50 L61.07,417.56 L62.09,417.61 L63.12,417.66 L64.14,417.71 L65.17,417.75 L66.19,417.79 L67.22,417.82 L68.24,417.86 L69.27,417.89 L70.29,417.92 L71.32,417.95 L72.34,417.97 L73.37,417.99 L74.39,418.01 L75.42,418.03 L76.44,418.05 L77.46,418.07 L78.49,418.09 L79.51,418.10 L80.54,418.11 L81.56,418.13 L82.59,418.14 L83.61,418.15 L84.64,418.16 L85.66,418.17 L86.69,418.18 L87.71,418.19 L88.74,418.19 L89.76,418.20 L90.79,418.21 L91.81,418.21 L92.84,418.22 L93.86,418.22 L94.89,418.23 L95.91,418.23 L96.94,418.24 L97.96,418.24 L98.99,418.24 L100.01,418.25 L101.04,418.25 L102.06,418.25 L103.09,418.25 L104.11,418.26 L105.13,418.26 L106.16,418.26 L107.18,418.26 L108.21,418.26 L109.23,418.27 L110.26,418.27 L111.28,418.27 L112.31,418.27 L113.33,418.27 L114.36,418.27 L115.38,418.27 L116.41,418.27 L117.43,418.28 L118.46,418.28 L119.48,418.28 L120.51,418.28 L121.53,418.28 L122.56,418.28 L123.58,418.28 L124.61,418.28 L125.63,418.28 L126.66,418.28 L127.68,418.28 L128.71,418.28 L129.73,418.28 L130.76,418.28 L131.78,418.28 L132.81,418.28 L133.83,418.28 L134.85,418.28 L135.88,418.28 L136.90,418.28 L137.93,418.28 L138.95,418.28 L139.98,418.28 L141.00,418.28 L142.03,418.28 L143.05,418.28 L144.08,418.28 L145.10,418.28 L146.13,418.29 L147.15,418.29 L148.18,418.29 L149.20,418.29 L150.23,418.29 L151.25,418.29 L152.28,418.29 L153.30,418.29 L154.33,418.29 L155.35,418.29 L156.38,418.29 L157.40,418.29 L158.43,418.29 L159.45,418.29 L160.48,418.29 L161.50,418.29" stroke="#F4692C"/>
</g>
<rect x="54.75" y="361.70" width="98.65" height="27.25" fill="#fff" stroke="#262626" stroke-width="1"/>
<path d="M59.15,369.65 H107.45" stroke="#1877C9" stroke-width="1.2"/>
<path d="M59.15,381.45 H107.45" stroke="#F4692C" stroke-width="1.2"/>
<text transform="translate(111.05,373.00) scale(1,1.18)" font-size="7.9" stroke="#262626" stroke-width="0.12">E cluster 4</text>
<text transform="translate(111.05,385.40) scale(1,1.18)" font-size="7.9" stroke="#262626" stroke-width="0.12">E free</text>
<clipPath id="c31"><rect x="206.05" y="354.50" width="143.50" height="71.10"/></clipPath>
<rect x="206.65" y="355.10" width="142.30" height="69.90" fill="none" stroke="#262626" stroke-width="1.1"/>
<path d="M206.65,425.00 V423.40 M206.65,355.10 V356.70" stroke="#262626" stroke-width="1"/>
<text x="206.65" y="440.60" text-anchor="middle" font-size="12.0">0</text>
<path d="M277.80,425.00 V423.40 M277.80,355.10 V356.70" stroke="#262626" stroke-width="1"/>
<text x="277.80" y="440.60" text-anchor="middle" font-size="12.0">5</text>
<path d="M348.95,425.00 V423.40 M348.95,355.10 V356.70" stroke="#262626" stroke-width="1"/>
<text x="348.95" y="440.60" text-anchor="middle" font-size="12.0">10</text>
<path d="M206.65,355.10 H208.25 M348.95,355.10 H347.35" stroke="#262626" stroke-width="1"/>
<text x="203.65" y="360.60" text-anchor="end" font-size="12.0">1.5</text>
<path d="M206.65,404.17 H208.25 M348.95,404.17 H347.35" stroke="#262626" stroke-width="1"/>
<text x="203.65" y="409.67" text-anchor="end" font-size="12.0">1</text>
<path d="M208.85,346.15 L214.35,351.35 M214.35,346.15 L208.85,351.35" stroke="#262626" stroke-width="0.95" fill="none"/>
<text x="216.95" y="352.10" font-size="12.2">10</text>
<text x="231.15" y="345.65" font-size="9.6">7</text>
<g clip-path="url(#c31)" fill="none" stroke-width="1.3" stroke-linejoin="round">
<path d="M206.65,402.24 C207.76,401.26 212.19,397.31 213.30,396.32 C213.75,396.21 215.03,395.79 216.00,395.63 C216.97,395.47 218.10,395.38 219.10,395.33 C220.10,395.29 221.03,395.33 222.00,395.38 C222.97,395.43 223.45,395.36 224.90,395.63 C226.35,395.90 228.18,396.34 230.70,397.01 C233.22,397.68 236.63,398.55 240.00,399.64 C243.37,400.72 247.27,402.25 250.90,403.53 C254.53,404.81 258.17,406.16 261.80,407.33 C265.43,408.50 269.07,409.39 272.70,410.54 C276.33,411.69 279.97,413.01 283.60,414.24 C287.23,415.47 291.77,417.08 294.50,417.94 C297.23,418.81 298.05,418.90 300.00,419.42 C301.95,419.95 303.47,420.34 306.20,421.07 C308.93,421.81 314.20,423.28 316.40,423.85 C318.60,424.43 318.90,424.41 319.40,424.52 C320.77,424.52 326.23,424.52 327.60,424.52 C328.78,423.75 333.52,420.68 334.70,419.92 C335.73,418.65 339.87,413.58 340.90,412.32 C341.73,411.15 345.07,406.47 345.90,405.31 C346.40,404.35 348.40,400.53 348.90,399.58" stroke="#1877C9"/>
<path d="M206.50,402.49 L207.52,400.86 L208.55,399.34 L209.57,397.90 L210.60,396.55 L211.62,395.27 L212.65,394.08 L213.67,392.94 L214.70,391.88 L215.72,390.87 L216.74,389.92 L217.77,389.03 L218.79,388.18 L219.82,387.38 L220.84,386.62 L221.87,385.91 L222.89,385.23 L223.92,384.59 L224.94,383.98 L225.96,383.40 L226.99,382.85 L228.01,382.33 L229.04,381.83 L230.06,381.36 L231.09,380.91 L232.11,380.48 L233.14,380.07 L234.16,379.68 L235.18,379.31 L236.21,378.95 L237.23,378.61 L238.26,378.28 L239.28,377.96 L240.31,377.66 L241.33,377.37 L242.36,377.08 L243.38,376.81 L244.41,376.55 L245.43,376.30 L246.45,376.05 L247.48,375.82 L248.50,375.59 L249.53,375.37 L250.55,375.15 L251.58,374.94 L252.60,374.73 L253.63,374.53 L254.65,374.34 L255.67,374.15 L256.70,373.96 L257.72,373.78 L258.75,373.60 L259.77,373.43 L260.80,373.26 L261.82,373.09 L262.85,372.92 L263.87,372.76 L264.89,372.60 L265.92,372.44 L266.94,372.28 L267.97,372.13 L268.99,371.98 L270.02,371.83 L271.04,371.68 L272.07,371.53 L273.09,371.39 L274.11,371.24 L275.14,371.10 L276.16,370.96 L277.19,370.82 L278.21,370.68 L279.24,370.54 L280.26,370.40 L281.29,370.27 L282.31,370.13 L283.33,370.00 L284.36,369.86 L285.38,369.73 L286.41,369.60 L287.43,369.46 L288.46,369.33 L289.48,369.20 L290.51,369.07 L291.53,368.94 L292.55,368.81 L293.58,368.68 L294.60,368.55 L295.63,368.42 L296.65,368.29 L297.68,368.17 L298.70,368.04 L299.73,367.91 L300.75,367.78 L301.77,367.66 L302.80,367.53 L303.82,367.40 L304.85,367.28 L305.87,367.15 L306.90,367.02 L307.92,366.90 L308.95,366.77 L309.97,366.64 L310.99,366.52 L312.02,366.39 L313.04,366.27 L314.07,366.14 L315.09,366.02 L316.12,365.89 L317.14,365.77 L318.17,365.64 L319.19,365.52 L320.22,365.39 L321.24,365.27 L322.26,365.14 L323.29,365.02 L324.31,364.89 L325.34,364.77 L326.36,364.64 L327.39,364.52 L328.41,364.40 L329.44,364.27 L330.46,364.15 L331.48,364.02 L332.51,363.90 L333.53,363.77 L334.56,363.65 L335.58,363.53 L336.61,363.40 L337.63,363.28 L338.66,363.15 L339.68,363.03 L340.70,362.90 L341.73,362.78 L342.75,362.66 L343.78,362.53 L344.80,362.41 L345.83,362.28 L346.85,362.16 L347.88,362.04 L348.90,361.91" stroke="#F4692C"/>
</g>
<rect x="242.40" y="361.70" width="98.20" height="27.25" fill="#fff" stroke="#262626" stroke-width="1"/>
<path d="M246.80,369.65 H295.10" stroke="#1877C9" stroke-width="1.2"/>
<path d="M246.80,381.45 H295.10" stroke="#F4692C" stroke-width="1.2"/>
<text transform="translate(298.70,373.00) scale(1,1.18)" font-size="7.9" stroke="#262626" stroke-width="0.12">D cluster 4</text>
<text transform="translate(298.70,385.40) scale(1,1.18)" font-size="7.9" stroke="#262626" stroke-width="0.12">D free</text>
<clipPath id="c32"><rect x="393.60" y="354.50" width="143.50" height="71.10"/></clipPath>
<rect x="394.20" y="355.10" width="142.30" height="69.90" fill="none" stroke="#262626" stroke-width="1.1"/>
<path d="M394.20,425.00 V423.40 M394.20,355.10 V356.70" stroke="#262626" stroke-width="1"/>
<text x="394.20" y="440.60" text-anchor="middle" font-size="12.0">0</text>
<path d="M465.35,425.00 V423.40 M465.35,355.10 V356.70" stroke="#262626" stroke-width="1"/>
<text x="465.35" y="440.60" text-anchor="middle" font-size="12.0">5</text>
<path d="M536.50,425.00 V423.40 M536.50,355.10 V356.70" stroke="#262626" stroke-width="1"/>
<text x="536.50" y="440.60" text-anchor="middle" font-size="12.0">10</text>
<path d="M394.20,367.61 H395.80 M536.50,367.61 H534.90" stroke="#262626" stroke-width="1"/>
<text x="391.20" y="373.11" text-anchor="end" font-size="12.0">10</text>
<path d="M394.20,416.14 H395.80 M536.50,416.14 H534.90" stroke="#262626" stroke-width="1"/>
<text x="391.20" y="421.64" text-anchor="end" font-size="12.0">5</text>
<path d="M396.40,346.15 L401.90,351.35 M401.90,346.15 L396.40,351.35" stroke="#262626" stroke-width="0.95" fill="none"/>
<text x="404.50" y="352.10" font-size="12.2">10</text>
<text x="418.70" y="345.65" font-size="9.6">6</text>
<g clip-path="url(#c32)" fill="none" stroke-width="1.3" stroke-linejoin="round">
<path d="M394.20,411.08 C395.33,409.84 399.87,404.87 401.00,403.63 C401.58,403.54 403.23,403.25 404.50,403.13 C405.77,403.01 407.35,402.86 408.60,402.88 C409.85,402.91 410.70,403.08 412.00,403.28 C413.30,403.48 414.62,403.51 416.40,404.07 C418.18,404.63 420.30,405.71 422.70,406.64 C425.10,407.56 428.67,408.82 430.80,409.60 C432.93,410.37 433.97,410.78 435.50,411.28 C437.03,411.77 437.88,411.92 440.00,412.56 C442.12,413.20 445.17,414.30 448.20,415.13 C451.23,415.95 455.02,416.89 458.20,417.50 C461.38,418.11 464.27,418.34 467.30,418.78 C470.33,419.22 474.12,419.85 476.40,420.16 C478.68,420.47 478.32,420.24 481.00,420.66 C483.68,421.07 488.82,422.02 492.50,422.63 C496.18,423.24 500.80,424.00 503.10,424.31 C505.40,424.62 505.77,424.47 506.30,424.51 C507.70,424.51 513.30,424.51 514.70,424.51 C515.93,423.68 520.87,420.39 522.10,419.57 C523.33,417.99 528.27,411.67 529.50,410.09 C530.70,408.02 535.50,399.73 536.70,397.65" stroke="#1877C9"/>
<path d="M394.20,411.28 L395.22,409.14 L396.25,407.12 L397.27,405.20 L398.30,403.38 L399.32,401.66 L400.35,400.02 L401.37,398.46 L402.40,396.99 L403.42,395.58 L404.44,394.25 L405.47,392.98 L406.49,391.78 L407.52,390.63 L408.54,389.54 L409.57,388.50 L410.59,387.51 L411.62,386.57 L412.64,385.67 L413.66,384.81 L414.69,383.99 L415.71,383.20 L416.74,382.46 L417.76,381.74 L418.79,381.05 L419.81,380.40 L420.84,379.77 L421.86,379.17 L422.88,378.59 L423.91,378.03 L424.93,377.50 L425.96,376.99 L426.98,376.49 L428.01,376.02 L429.03,375.56 L430.06,375.12 L431.08,374.69 L432.11,374.28 L433.13,373.88 L434.15,373.50 L435.18,373.12 L436.20,372.76 L437.23,372.41 L438.25,372.07 L439.28,371.74 L440.30,371.42 L441.33,371.11 L442.35,370.80 L443.37,370.51 L444.40,370.22 L445.42,369.94 L446.45,369.66 L447.47,369.39 L448.50,369.13 L449.52,368.87 L450.55,368.62 L451.57,368.38 L452.59,368.13 L453.62,367.90 L454.64,367.66 L455.67,367.43 L456.69,367.21 L457.72,366.99 L458.74,366.77 L459.77,366.55 L460.79,366.34 L461.81,366.13 L462.84,365.93 L463.86,365.72 L464.89,365.52 L465.91,365.32 L466.94,365.13 L467.96,364.93 L468.99,364.74 L470.01,364.55 L471.03,364.36 L472.06,364.18 L473.08,363.99 L474.11,363.81 L475.13,363.63 L476.16,363.45 L477.18,363.27 L478.21,363.09 L479.23,362.92 L480.25,362.74 L481.28,362.57 L482.30,362.40 L483.33,362.22 L484.35,362.05 L485.38,361.89 L486.40,361.72 L487.43,361.55 L488.45,361.38 L489.47,361.22 L490.50,361.05 L491.52,360.89 L492.55,360.73 L493.57,360.57 L494.60,360.41 L495.62,360.24 L496.65,360.09 L497.67,359.93 L498.69,359.77 L499.72,359.61 L500.74,359.45 L501.77,359.30 L502.79,359.14 L503.82,358.98 L504.84,358.83 L505.87,358.68 L506.89,358.52 L507.92,358.37 L508.94,358.22 L509.96,358.06 L510.99,357.91 L512.01,357.76 L513.04,357.61 L514.06,357.46 L515.09,357.31 L516.11,357.16 L517.14,357.01 L518.16,356.86 L519.18,356.72 L520.21,356.57 L521.23,356.42 L522.26,356.28 L523.28,356.13 L524.31,355.98 L525.33,355.84 L526.36,355.69 L527.38,355.55 L528.40,355.40 L529.43,355.26 L530.45,355.12 L531.48,354.97 L532.50,354.83 L533.53,354.69 L534.55,354.55 L535.58,354.40 L536.60,354.26" stroke="#F4692C"/>
</g>
<rect x="422.25" y="361.50" width="106.15" height="30.60" fill="#fff" stroke="#262626" stroke-width="1"/>
<path d="M426.50,370.30 H473.90" stroke="#1877C9" stroke-width="1.2"/>
<path d="M426.50,383.90 H473.90" stroke="#F4692C" stroke-width="1.2"/>
<text transform="translate(477.85,374.60) scale(1,1.1)" font-size="9.4" stroke="#262626" stroke-width="0.12">C cluster 4</text>
<text transform="translate(477.85,387.70) scale(1,1.1)" font-size="9.4" stroke="#262626" stroke-width="0.12">C free</text>
</g>
</svg>
</body></html>
